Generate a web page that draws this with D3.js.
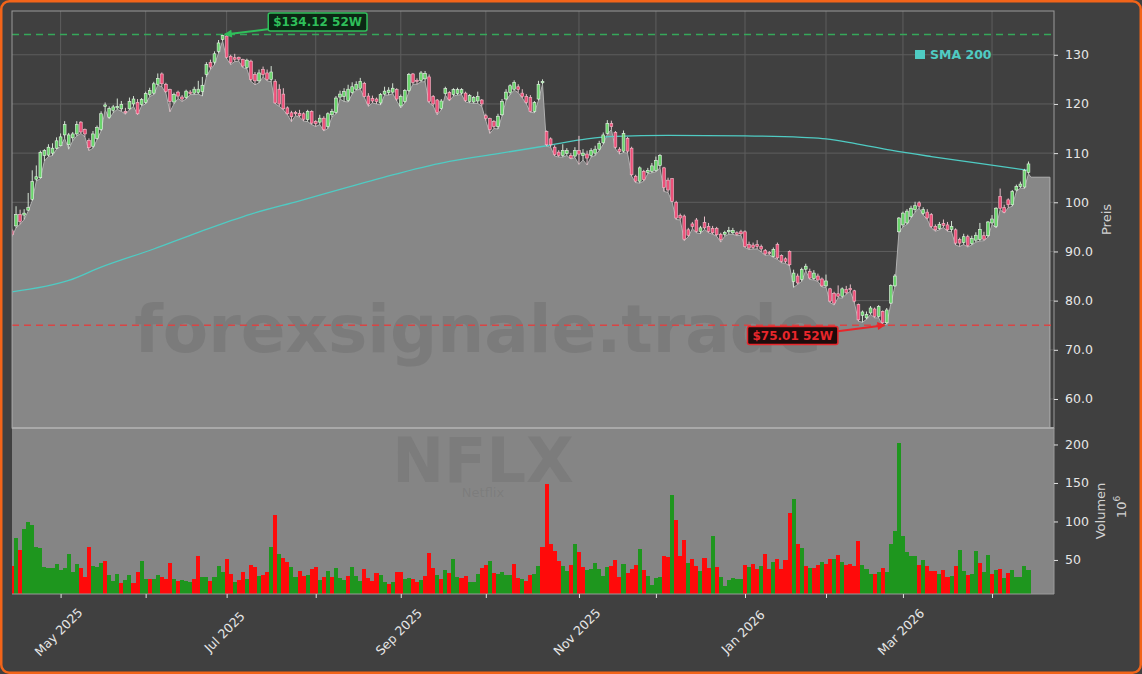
<!DOCTYPE html>
<html>
<head>
<meta charset="utf-8">
<script src="https://cdn.jsdelivr.net/npm/d3@7"></script>
<style>
  html, body { margin: 0; padding: 0; background: #404040; }
  svg { display: block; font-family: "DejaVu Sans", sans-serif; }
</style>
</head>
<body>
<script>
// NFLX daily candles, one entry per trading day (mid Apr 2025 .. mid Apr 2026)
var open = [
  94.2, 95.2, 97.5, 97.4, 98.4, 100.6, 104.7, 105.0, 109.5, 109.6,
  110.0, 111.0, 111.5, 113.7, 111.7, 113.1, 113.9, 116.3, 114.8, 112.6,
  111.4, 113.0, 114.8, 119.5, 117.3, 118.7, 119.2, 119.0, 118.5, 119.0,
  120.0, 120.3, 119.9, 120.3, 121.9, 122.2, 124.0, 126.1, 124.0, 122.9,
  120.4, 122.4, 121.4, 121.3, 122.4, 122.2, 122.3, 122.5, 126.0, 128.4,
  128.5, 130.7, 133.1, 133.8, 129.7, 129.4, 129.5, 129.0, 127.4, 128.7,
  126.0, 124.7, 127.0, 126.3, 125.0, 124.6, 123.0, 122.0, 119.2, 118.2,
  118.3, 118.1, 118.0, 116.8, 118.5, 116.4, 116.3, 117.1, 115.4, 117.8,
  118.3, 121.4, 121.5, 120.7, 122.3, 123.0, 123.2, 124.2, 121.6, 121.1,
  121.0, 120.2, 122.0, 122.3, 122.4, 122.9, 119.6, 120.5, 122.7, 126.1,
  124.8, 124.8, 125.1, 125.5, 121.5, 120.8, 119.1, 122.1, 122.3, 121.9,
  122.1, 122.2, 122.2, 120.5, 120.4, 120.6, 120.8, 117.6, 117.0, 116.4,
  115.4, 117.8, 121.0, 122.3, 123.0, 123.5, 122.2, 121.5, 121.3, 118.5,
  121.0, 124.3, 114.4, 112.9, 111.2, 110.2, 109.5, 109.9, 109.5, 109.4,
  110.5, 109.5, 109.8, 109.5, 110.0, 110.8, 112.1, 114.0, 116.0, 114.2,
  110.8, 110.4, 113.0, 111.0, 105.3, 104.3, 106.3, 106.1, 106.3, 106.5,
  107.5, 107.0, 104.5, 104.8, 100.0, 97.3, 97.2, 94.4, 95.6, 96.4,
  94.1, 95.9, 95.1, 94.7, 94.7, 93.5, 93.5, 94.0, 93.8, 93.8,
  94.0, 94.0, 91.4, 91.3, 91.4, 91.0, 90.2, 89.8, 89.0, 91.4,
  89.2, 88.5, 90.0, 83.9, 85.0, 84.3, 86.4, 85.9, 84.5, 85.0,
  84.4, 83.0, 82.4, 81.5, 81.4, 80.9, 82.3, 82.5, 82.0, 79.2,
  77.0, 76.5, 77.5, 78.3, 76.8, 77.8, 75.5, 79.5, 83.0, 94.0,
  95.4, 95.8, 97.1, 98.5, 99.9, 97.7, 98.0, 97.5, 95.1, 94.7,
  95.7, 95.4, 94.5, 94.4, 92.4, 91.8, 93.0, 91.6, 92.3, 92.4,
  93.2, 93.2, 95.8, 95.1, 101.2, 98.9, 100.5, 99.5, 102.5, 103.2,
  103.1, 106.1
];
var high = [
  94.6, 99.2, 98.5, 98.6, 101.9, 106.5, 107.5, 110.5, 110.8, 111.8,
  112.0, 113.2, 114.0, 116.5, 114.1, 114.3, 116.5, 116.5, 115.0, 113.0,
  114.5, 115.6, 118.5, 120.3, 119.5, 119.8, 121.1, 120.6, 119.2, 121.3,
  121.6, 121.0, 121.2, 122.5, 123.3, 124.5, 126.2, 126.4, 124.3, 123.1,
  122.3, 122.7, 121.8, 122.9, 122.8, 123.5, 124.7, 125.5, 128.5, 129.0,
  130.7, 133.0, 134.0, 134.12, 130.0, 130.2, 129.6, 129.2, 129.2, 129.0,
  126.5, 127.0, 127.6, 127.0, 127.7, 125.0, 124.0, 123.2, 119.5, 118.6,
  118.6, 118.8, 118.3, 118.8, 118.7, 116.7, 117.8, 117.5, 118.3, 119.0,
  121.6, 122.7, 123.2, 123.9, 124.4, 124.6, 125.3, 124.5, 122.2, 121.7,
  121.3, 122.2, 123.5, 123.4, 124.2, 123.2, 121.9, 123.0, 126.3, 126.3,
  125.2, 126.7, 126.7, 126.0, 121.8, 121.0, 121.0, 123.5, 122.6, 123.2,
  123.3, 123.2, 122.5, 122.0, 121.6, 122.5, 121.0, 118.0, 117.2, 116.7,
  118.0, 121.0, 123.0, 124.0, 124.8, 124.0, 123.0, 122.0, 121.8, 120.6,
  124.7, 125.0, 114.6, 113.2, 111.6, 110.6, 111.8, 111.0, 110.0, 111.2,
  113.5, 110.8, 110.5, 111.0, 111.5, 112.5, 114.2, 116.7, 116.6, 114.5,
  111.2, 114.6, 113.3, 111.3, 105.6, 107.3, 106.6, 107.0, 108.0, 109.3,
  109.8, 107.2, 105.0, 104.9, 100.3, 97.7, 97.5, 94.8, 96.0, 96.8,
  95.2, 97.1, 95.8, 95.2, 95.0, 93.8, 94.2, 95.0, 94.8, 94.1,
  94.4, 94.3, 92.0, 91.8, 92.3, 91.4, 90.5, 90.1, 90.8, 91.8,
  89.4, 88.8, 90.2, 86.3, 85.5, 86.7, 87.5, 86.5, 86.2, 85.5,
  84.7, 85.3, 82.6, 81.8, 83.1, 82.7, 83.0, 83.3, 82.2, 79.4,
  78.0, 77.8, 78.9, 78.6, 79.1, 78.0, 78.5, 83.3, 85.4, 97.0,
  98.1, 98.6, 99.3, 100.1, 100.2, 99.0, 98.6, 97.8, 95.5, 96.0,
  96.5, 96.0, 96.2, 94.7, 92.8, 93.6, 93.4, 93.2, 93.9, 95.8,
  94.0, 96.2, 97.4, 99.0, 102.8, 99.5, 100.8, 102.5, 103.6, 104.2,
  106.8, 108.3
];
var low = [
  93.0, 94.8, 95.5, 96.5, 98.2, 100.3, 104.3, 104.8, 108.4, 109.3,
  109.5, 110.8, 111.4, 113.0, 110.8, 112.5, 113.5, 114.0, 113.3, 110.5,
  111.0, 112.7, 114.5, 118.8, 117.0, 118.2, 118.9, 118.5, 117.9, 118.8,
  119.5, 117.8, 119.6, 120.0, 121.5, 121.9, 123.8, 123.5, 122.2, 118.4,
  120.0, 121.1, 120.5, 121.0, 121.9, 121.9, 122.0, 121.6, 125.5, 127.0,
  128.0, 130.3, 132.8, 129.2, 128.0, 128.6, 128.7, 127.4, 127.1, 124.6,
  123.9, 124.3, 125.5, 124.7, 124.5, 120.0, 119.5, 118.8, 117.8, 116.4,
  117.6, 117.3, 116.5, 116.4, 115.8, 115.4, 115.8, 114.5, 115.0, 117.3,
  118.0, 121.0, 120.5, 120.4, 122.0, 122.8, 123.0, 121.3, 119.5, 120.2,
  120.0, 119.8, 121.8, 121.8, 122.1, 120.6, 119.2, 120.2, 122.4, 124.0,
  124.0, 124.5, 124.5, 120.2, 119.6, 117.8, 118.8, 121.8, 120.6, 121.6,
  121.8, 121.9, 120.4, 120.2, 120.1, 120.1, 119.5, 116.6, 114.0, 115.0,
  114.9, 117.5, 120.7, 121.9, 122.8, 122.3, 121.2, 120.0, 118.3, 118.2,
  120.7, 124.0, 111.4, 111.2, 109.4, 109.2, 109.2, 109.5, 108.8, 109.1,
  107.7, 108.6, 107.6, 109.2, 109.5, 110.5, 111.8, 113.8, 114.8, 110.9,
  109.8, 110.1, 110.0, 105.3, 104.0, 103.9, 104.3, 105.8, 106.0, 106.2,
  107.0, 102.2, 102.0, 100.0, 96.5, 96.4, 92.2, 93.0, 94.6, 93.8,
  93.6, 94.5, 93.8, 93.5, 93.1, 91.9, 93.1, 93.5, 93.5, 93.2,
  93.3, 90.8, 90.4, 90.5, 90.5, 89.9, 89.2, 89.3, 88.8, 88.4,
  87.7, 87.6, 87.0, 82.7, 83.3, 83.9, 86.1, 84.3, 84.2, 83.9,
  82.8, 82.7, 79.6, 79.1, 80.6, 80.5, 81.3, 81.9, 79.6, 75.8,
  75.6, 76.2, 77.2, 76.5, 76.5, 75.01, 75.2, 79.3, 82.8, 93.8,
  95.0, 95.5, 96.8, 98.0, 98.8, 97.4, 96.5, 94.8, 94.1, 94.4,
  94.9, 94.1, 94.0, 91.3, 91.0, 91.4, 90.9, 91.3, 91.9, 92.1,
  92.2, 92.9, 95.5, 94.8, 98.5, 97.8, 98.9, 99.2, 102.2, 102.9,
  102.8, 105.8
];
var close = [
  93.4, 97.5, 96.1, 97.8, 98.9, 104.2, 105.2, 110.1, 110.5, 111.2,
  111.0, 112.5, 113.3, 115.8, 113.7, 113.9, 115.8, 114.3, 113.9, 111.1,
  113.9, 115.2, 118.0, 119.8, 119.1, 119.4, 119.5, 119.9, 118.2, 120.5,
  121.0, 118.0, 120.9, 122.1, 122.7, 124.1, 125.2, 124.1, 122.5, 120.5,
  121.9, 121.6, 121.0, 122.6, 122.1, 123.0, 123.0, 123.8, 128.0, 127.5,
  130.2, 132.4, 133.9, 129.5, 128.4, 129.1, 129.1, 127.7, 128.9, 125.0,
  124.7, 126.3, 126.0, 125.0, 126.5, 120.2, 120.0, 119.0, 118.0, 117.4,
  118.0, 117.6, 116.9, 118.5, 116.1, 116.0, 117.1, 114.8, 118.0, 118.5,
  121.2, 122.0, 122.5, 123.0, 123.5, 124.0, 124.6, 121.5, 120.0, 120.6,
  120.5, 121.9, 122.6, 122.8, 123.2, 121.0, 121.5, 122.7, 126.0, 124.4,
  124.6, 126.3, 126.2, 120.5, 120.0, 118.3, 120.6, 123.1, 120.9, 122.9,
  122.9, 122.9, 120.7, 121.7, 121.3, 121.5, 120.0, 117.1, 114.8, 115.4,
  117.5, 120.5, 122.4, 123.7, 124.4, 122.9, 121.5, 120.3, 118.5, 120.3,
  124.0, 124.6, 111.7, 111.7, 109.7, 109.5, 110.5, 110.5, 109.0, 110.5,
  109.8, 110.0, 109.0, 110.5, 110.8, 112.0, 113.7, 116.0, 115.4, 111.2,
  110.3, 114.0, 110.4, 105.6, 104.3, 107.0, 104.6, 106.5, 107.4, 108.5,
  109.5, 103.0, 102.5, 100.2, 96.8, 96.8, 92.5, 93.3, 95.1, 94.1,
  94.8, 94.8, 94.1, 93.8, 93.4, 92.4, 93.9, 94.3, 94.3, 93.5,
  93.6, 91.0, 90.7, 90.8, 91.0, 90.5, 89.5, 89.6, 90.4, 88.7,
  88.0, 88.0, 87.3, 85.6, 83.6, 86.3, 87.0, 84.6, 85.6, 84.2,
  83.0, 84.0, 79.9, 79.5, 80.9, 82.4, 81.6, 82.2, 79.9, 76.1,
  77.7, 77.2, 78.5, 76.8, 78.8, 75.5, 78.1, 83.1, 85.0, 96.8,
  97.8, 98.2, 98.8, 99.3, 99.2, 98.5, 96.8, 95.1, 94.4, 95.5,
  95.3, 94.4, 95.1, 91.7, 91.7, 93.0, 91.2, 92.6, 93.3, 94.5,
  92.5, 96.0, 96.6, 98.8, 98.8, 98.0, 99.5, 102.2, 103.2, 103.7,
  106.5, 107.8
];
// volume in millions
var volume = [
  42.6, 79, 63, 90.3, 99.4, 95, 66.9, 65, 40.9, 39.6,
  39.6, 44.8, 37.5, 39.6, 57.8, 34.4, 44.8, 39.6, 28.4, 67.3,
  42.6, 41.3, 46.1, 49.1, 30.5, 22.7, 31.8, 20.1, 24, 30.5,
  20.1, 34.4, 48.7, 25.3, 25.3, 25.3, 30.5, 27.9, 25.3, 46.1,
  25.3, 22.7, 24, 22.7, 21.4, 25.3, 55.2, 27.9, 27.9, 22.7,
  27.9, 42.2, 34.8, 51.3, 31.8, 21.4, 24, 34.4, 25.3, 43.5,
  40.9, 29.2, 30.5, 34.4, 66.9, 108.4, 57.8, 52.6, 47.4, 40.9,
  27.9, 35.7, 29.2, 30.5, 38.3, 40.9, 24, 27.9, 35.7, 27.9,
  39.6, 26.6, 24, 29.2, 40.9, 29.2, 22.7, 38.3, 26.6, 22.7,
  33.1, 30.5, 21.4, 18.8, 21.4, 34.4, 34.4, 25.3, 26, 25.3,
  21, 24, 29.2, 59, 39.6, 30.5, 25.3, 37, 33.1, 51.3,
  27.9, 26.6, 29.2, 21.4, 21.4, 31.8, 39.6, 43.5, 48.7, 33.1,
  31.8, 34.4, 30.5, 30.5, 44.8, 26.6, 25.3, 22.7, 30.5, 31.8,
  42.2, 66.9, 148.7, 70.8, 61.7, 48.7, 42.2, 35.7, 43.5, 70.8,
  60.4, 40.9, 37, 38.3, 46.1, 38.3, 29.2, 40.9, 42.2, 50,
  27.9, 44.8, 33.1, 38.3, 43.5, 64.3, 37, 29.2, 17.5, 26.6,
  27.9, 55.2, 53.9, 134.4, 102, 55.2, 76, 46.1, 51.3, 42.2,
  35.7, 52.6, 39.6, 81.2, 40.9, 27.9, 16.2, 24, 26.6, 25.3,
  25.3, 43.5, 40.9, 44.8, 38.3, 42.2, 57.8, 38.3, 47.4, 51.3,
  38.3, 50, 110.9, 129.1, 70.8, 65.6, 42.2, 39.6, 39.6, 43.5,
  47.4, 44.8, 51.3, 51.3, 56.5, 47.4, 43.5, 44.8, 42.2, 74.6,
  43.5, 38.3, 31.8, 31.8, 34.4, 39.6, 34.4, 70.8, 87.7, 202,
  81.2, 60.4, 55.2, 55.2, 43.5, 50, 42.2, 35.7, 35.7, 31.8,
  37, 27.9, 29.2, 42.2, 63, 35.7, 30.5, 31.8, 61.7, 46.1,
  34.4, 56.5, 31.8, 37, 38.3, 26.6, 33.1, 37, 27.9, 27.9,
  42.2, 37
];
// g = up day bar, r = down day bar
var volumeDir = [
  "rgrggggggg", "gggggggrrr", "gggrgggrgg", "rrggrggrrr", "grgggrrggr",
  "gggrrgrrgr", "rgrrgrgrrg", "grrgrrgrgr", "gggrgggrrr", "rggrgrrggr",
  "rgrrrgrgrg", "grrgggrrgr", "ggggrrgrrg", "grrrrrggrg", "rrggggggrr",
  "rgrrrgrggg", "grrgrrrgrr", "grrgrggggg", "grgrrgrrgr", "rrrgrgrgrr",
  "grrgrgrrrr", "gggrgrgggg", "ggggrgrrrg", "rrgrggrggr", "ggrgrgrggg",
  "gg"
].join("");

// 200-day SMA, read at these trading-day positions
var smaDay   = [0, 14, 22, 35, 46, 59, 71, 83, 96, 108, 120, 132, 142, 149, 162, 181, 195, 201, 208, 217, 227, 238, 251];
var smaValue = [81.8, 84.1, 86.8, 90.5, 93.9, 97.6, 100.3, 103.1, 106.0, 108.3, 109.9, 111.5, 112.9, 113.4, 113.6, 113.5, 113.2, 112.9, 112.0, 110.6, 109.3, 108.0, 106.5];

// grey fill runs on past the last candle
var areaTail = [[251.6, 105.1], [256.3, 105.1]];

var monthTicks  = [12, 33, 53, 75, 96, 117, 140, 159, 181, 201, 220, 242];
var monthLabels = ["May 2025", "", "Jul 2025", "", "Sep 2025", "", "Nov 2025", "", "Jan 2026", "", "Mar 2026", ""];
var priceTicks  = [60, 70, 80, 90, 100, 110, 120, 130];
var priceLabels = ["60.0", "70.0", "80.0", "90.0", "100", "110", "120", "130"];
var volTicks    = [50, 100, 150, 200];

var high52 = 134.12, low52 = 75.01;

// layout
var W = 1142, H = 674;
var L = 12, R = 1054, PT = 11, PB = 428, VB = 594;

var svg = d3.select('body').append('svg')
  .attr('width', W)
  .attr('height', H);

svg.append('rect')
  .attr('x', 1.25).attr('y', 1.25)
  .attr('width', W - 2.5).attr('height', H - 2.5)
  .attr('rx', 8)
  .attr('fill', '#404040')
  .attr('stroke', '#f26419')
  .attr('stroke-width', 2.5);

var x = d3.scaleLinear().domain([0, 257.3]).range([L, R]);
var yP = d3.scaleLinear().domain([54.1, 138.9]).range([PB, PT]);
var yV = d3.scaleLinear().domain([5.8, 221.4]).range([VB, PB]);

var days = d3.range(close.length);

var defs = svg.append('defs');
defs.append('clipPath').attr('id', 'clipP')
  .append('rect').attr('x', L).attr('y', PT).attr('width', R - L).attr('height', PB - PT);
defs.append('clipPath').attr('id', 'clipV')
  .append('rect').attr('x', L).attr('y', PB).attr('width', R - L).attr('height', VB - PB);

function marker(id, color) {
  defs.append('marker')
    .attr('id', id)
    .attr('viewBox', '0 0 10 10')
    .attr('refX', 9).attr('refY', 5)
    .attr('markerUnits', 'userSpaceOnUse')
    .attr('markerWidth', 9).attr('markerHeight', 8)
    .attr('orient', 'auto')
    .append('path').attr('d', 'M0,0 L10,5 L0,10 z').attr('fill', color);
}
marker('arrG', '#2fbf5a');
marker('arrR', '#e8262b');

// ---- price panel ----
var gP = svg.append('g');

gP.selectAll('line.vg').data(monthTicks).enter().append('line')
  .attr('x1', function(d){ return x(d); }).attr('x2', function(d){ return x(d); })
  .attr('y1', PT).attr('y2', PB)
  .attr('stroke', '#5d5d5d').attr('stroke-width', 1);
gP.selectAll('line.hg').data(priceTicks).enter().append('line')
  .attr('x1', L).attr('x2', R)
  .attr('y1', function(d){ return yP(d); }).attr('y2', function(d){ return yP(d); })
  .attr('stroke', '#5d5d5d').attr('stroke-width', 1);

var areaPts = days.map(function(d){ return [d, low[d]]; }).concat(areaTail);
var area = d3.area()
  .x(function(d){ return x(d[0]); })
  .y0(PB)
  .y1(function(d){ return yP(d[1]); });
gP.append('path').datum(areaPts)
  .attr('d', area)
  .attr('fill', '#878787')
  .attr('stroke', '#b0b0b0')
  .attr('stroke-width', 1)
  .attr('clip-path', 'url(#clipP)');

// watermark
gP.append('text')
  .attr('x', 478).attr('y', 352)
  .attr('text-anchor', 'middle')
  .attr('font-size', 66).attr('font-weight', 'bold')
  .attr('fill', '#4a4a4a').attr('fill-opacity', 0.18)
  .text('forexsignale.trade');

// 52W lines
gP.append('line')
  .attr('x1', L).attr('x2', R)
  .attr('y1', yP(high52)).attr('y2', yP(high52))
  .attr('stroke', '#35a85a').attr('stroke-width', 1.5)
  .attr('stroke-dasharray', '7,5');
gP.append('line')
  .attr('x1', L).attr('x2', R)
  .attr('y1', yP(low52)).attr('y2', yP(low52))
  .attr('stroke', '#d94545').attr('stroke-width', 1.5)
  .attr('stroke-dasharray', '7,5');

// SMA 200
var smaLine = d3.line()
  .x(function(d, i){ return x(smaDay[i]); })
  .y(function(d){ return yP(d); })
  .curve(d3.curveMonotoneX);
gP.append('path').datum(smaValue)
  .attr('d', smaLine)
  .attr('fill', 'none')
  .attr('stroke', '#4fcbc3')
  .attr('stroke-width', 1.3)
  .attr('clip-path', 'url(#clipP)');

// candles
var gC = gP.append('g').attr('clip-path', 'url(#clipP)');
gC.selectAll('line.wick').data(days).enter().append('line')
  .attr('x1', function(d){ return x(d); }).attr('x2', function(d){ return x(d); })
  .attr('y1', function(d){ return yP(high[d]); })
  .attr('y2', function(d){ return yP(low[d]); })
  .attr('stroke', function(d){ return close[d] >= open[d] ? '#d4e2d4' : '#e8c0ca'; })
  .attr('stroke-width', 1);
gC.selectAll('rect.body').data(days).enter().append('rect')
  .attr('x', function(d){ return x(d) - 1.4; })
  .attr('width', 2.8)
  .attr('y', function(d){ return yP(Math.max(open[d], close[d])); })
  .attr('height', function(d){ return Math.max(0.8, Math.abs(yP(open[d]) - yP(close[d]))); })
  .attr('fill', function(d){ return close[d] >= open[d] ? '#6ad46c' : '#ec4f78'; })
  .attr('stroke', function(d){ return close[d] >= open[d] ? '#e6f5e6' : '#f6bccb'; })
  .attr('stroke-width', 0.6);

// legend
gP.append('rect').attr('x', 915).attr('y', 50).attr('width', 10).attr('height', 9).attr('fill', '#4fcbc3');
gP.append('text').attr('x', 930).attr('y', 58.5)
  .attr('font-size', 12.5).attr('font-weight', 'bold')
  .attr('fill', '#4fcbc3').text('SMA 200');

// 52W annotations
var kHi = d3.maxIndex(high), kLo = d3.minIndex(low);
function note(px, py, dx, dy, sx, sy, label, color, fill, markId) {
  gP.append('line')
    .attr('x1', px + sx).attr('y1', py + sy)
    .attr('x2', px + 2 * Math.sign(-sx)).attr('y2', py)
    .attr('stroke', color).attr('stroke-width', 2)
    .attr('marker-end', 'url(#' + markId + ')');
  var g = gP.append('g').attr('transform', 'translate(' + (px + dx) + ',' + (py + dy) + ')');
  var box = g.append('rect');
  var t = g.append('text')
    .attr('text-anchor', 'middle').attr('dy', '0.36em')
    .attr('font-size', 12).attr('font-weight', 'bold')
    .attr('fill', color).text(label);
  var w = t.node().getComputedTextLength() + 10;
  box.attr('x', -w / 2).attr('y', -9).attr('width', w).attr('height', 18)
    .attr('rx', 2).attr('fill', fill)
    .attr('stroke', color).attr('stroke-width', 1.5);
}
note(x(kHi), yP(high52), 91, -12.5, 43, -5.5, '$' + high52.toFixed(2) + ' 52W', '#2fbf5a', '#0c2614', 'arrG');
note(x(kLo), yP(low52), -90, 10.3, -45, 6, '$' + low52.toFixed(2) + ' 52W', '#e8262b', '#1e0b0b', 'arrR');

// spines
gP.append('rect').attr('x', L).attr('y', PT).attr('width', R - L).attr('height', PB - PT)
  .attr('fill', 'none').attr('stroke', '#9a9a9a').attr('stroke-width', 1);

// ---- volume panel ----
var gV = svg.append('g');
gV.append('rect').attr('x', L).attr('y', PB).attr('width', R - L).attr('height', VB - PB).attr('fill', '#858585');

gV.append('text')
  .attr('x', 483).attr('y', 482)
  .attr('text-anchor', 'middle')
  .attr('font-size', 62).attr('font-weight', 'bold')
  .attr('fill', '#555').attr('fill-opacity', 0.18)
  .text('NFLX');
gV.append('text')
  .attr('x', 483).attr('y', 497)
  .attr('text-anchor', 'middle')
  .attr('font-size', 13)
  .attr('fill', '#555').attr('fill-opacity', 0.18)
  .text('Netflix');

gV.append('g').attr('clip-path', 'url(#clipV)')
  .selectAll('rect').data(days).enter().append('rect')
  .attr('x', function(d){ return x(d - 0.5); })
  .attr('width', x(1) - x(0))
  .attr('y', function(d){ return yV(volume[d]); })
  .attr('height', function(d){ return VB - yV(volume[d]); })
  .attr('fill', function(d){ return volumeDir[d] === 'g' ? '#1e961e' : '#ff0a0a'; })
  .attr('shape-rendering', 'crispEdges');

gV.append('line').attr('x1', L).attr('x2', R).attr('y1', PB).attr('y2', PB)
  .attr('stroke', '#a9a9a9').attr('stroke-width', 2);
gV.append('line').attr('x1', R).attr('x2', R).attr('y1', PB).attr('y2', VB)
  .attr('stroke', '#9a9a9a').attr('stroke-width', 1);
gV.append('line').attr('x1', L).attr('x2', R).attr('y1', VB).attr('y2', VB)
  .attr('stroke', '#9a9a9a').attr('stroke-width', 1);

// ---- axes ----
function styleAxis(g) {
  g.select('.domain').remove();
  g.selectAll('.tick line').attr('stroke', '#e0e0e0');
  g.selectAll('.tick text').attr('fill', '#e6e6e6').attr('font-size', 12.5)
    .attr('font-family', '"DejaVu Sans", sans-serif');
}
svg.append('g').attr('transform', 'translate(' + R + ',0)')
  .call(d3.axisRight(yP).tickValues(priceTicks)
    .tickFormat(function(d, i){ return priceLabels[i]; })
    .tickSize(4).tickPadding(7))
  .call(styleAxis);
svg.append('g').attr('transform', 'translate(' + R + ',0)')
  .call(d3.axisRight(yV).tickValues(volTicks).tickSize(4).tickPadding(7))
  .call(styleAxis);
svg.append('g').attr('transform', 'translate(0,' + VB + ')')
  .call(d3.axisBottom(x).tickValues(monthTicks).tickFormat('').tickSize(4))
  .call(styleAxis);

svg.append('g').selectAll('text').data(monthTicks).enter().append('text')
  .attr('transform', function(d){ return 'translate(' + (x(d) - 2) + ',632) rotate(-45)'; })
  .attr('text-anchor', 'middle').attr('dy', '0.35em')
  .attr('font-size', 12.5).attr('fill', '#e6e6e6')
  .text(function(d, i){ return monthLabels[i]; });

// axis titles
svg.append('text')
  .attr('transform', 'translate(1111,' + ((PT + PB) / 2) + ') rotate(-90)')
  .attr('text-anchor', 'middle')
  .attr('font-size', 13).attr('fill', '#d2d2d2')
  .text('Preis');
svg.append('text')
  .attr('transform', 'translate(1105,' + ((PB + VB) / 2) + ') rotate(-90)')
  .attr('text-anchor', 'middle')
  .attr('font-size', 13).attr('fill', '#d2d2d2')
  .text('Volumen');
var exp = svg.append('text')
  .attr('transform', 'translate(1126,507) rotate(-90)')
  .attr('text-anchor', 'middle')
  .attr('font-size', 13).attr('fill', '#d2d2d2');
exp.append('tspan').text('10');
exp.append('tspan').attr('dy', -6).attr('font-size', 9).text('6');
</script>
</body>
</html>
